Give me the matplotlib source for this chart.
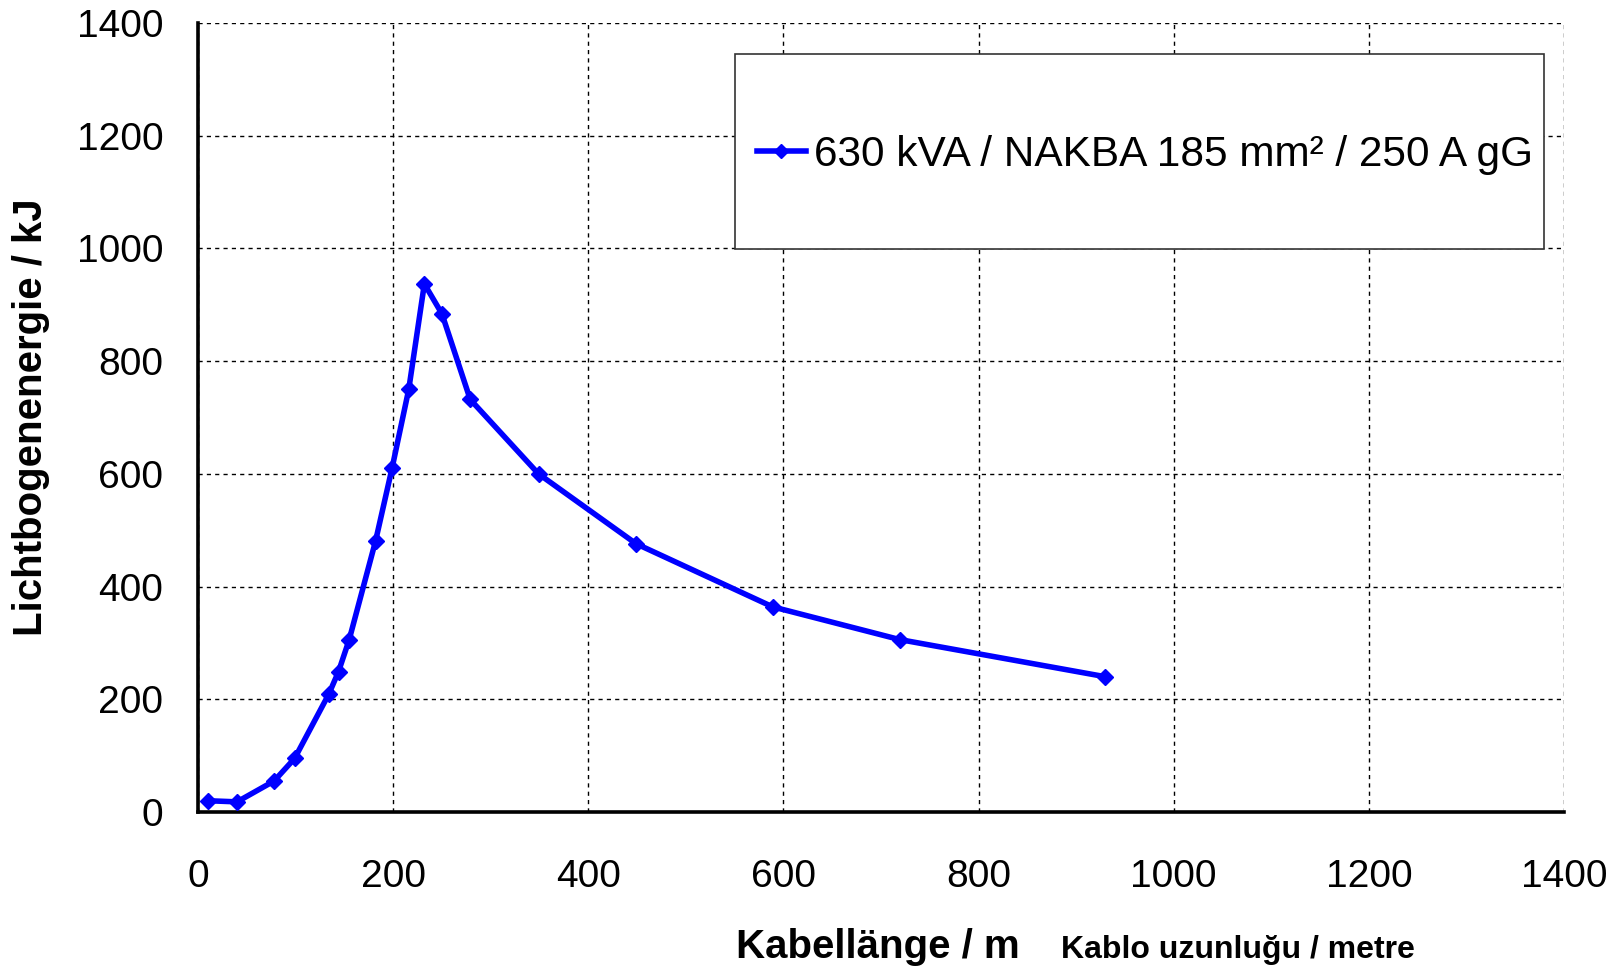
import matplotlib
matplotlib.use("Agg")
import matplotlib.pyplot as plt
from matplotlib.patches import Rectangle

# Lichtbogenenergie über Kabellänge
laenge = [10, 40, 78, 99, 134, 144, 155, 182, 199, 216, 232, 250, 279, 349, 449, 589, 719, 930]
energie = [20, 18, 55, 95, 209, 249, 306, 481, 611, 750, 937, 884, 732, 600, 476, 364, 306, 240]
reihe = "630 kVA / NAKBA 185 mm² / 250 A gG"
ticks = [0, 200, 400, 600, 800, 1000, 1200, 1400]

plt.rcParams['font.family'] = ['Liberation Sans', 'DejaVu Sans']

W, H = 1618, 966
fig = plt.figure(figsize=(W / 100, H / 100), dpi=100)
ax = fig.add_axes([198 / W, 1 - 812 / H, 1366 / W, 789 / H])

ax.plot(laenge, energie, color='#0000FF', lw=4.0, marker='D', ms=8,
        label=reihe, clip_on=False, zorder=3)

ax.set_xlim(0, 1400)
ax.set_ylim(0, 1400)
ax.set_xticks(ticks)
ax.set_yticks(ticks)
ax.tick_params(length=0, labelsize=28)
ax.tick_params(axis='x', pad=34)
ax.tick_params(axis='y', pad=25)
ax.grid(True, color='black', lw=1.0, linestyle=(0, (3, 3)))

for s in ['top', 'right']:
    ax.spines[s].set_visible(False)
for s in ['left', 'bottom']:
    ax.spines[s].set_linewidth(2.6)
    ax.spines[s].set_color('black')

# Legendenrahmen
x0 = (735 - 198) / 1366
x1 = (1544 - 198) / 1366
y1 = (812 - 54) / 789
y0 = (812 - 249) / 789
ax.add_patch(Rectangle((x0, y0), x1 - x0, y1 - y0, transform=ax.transAxes,
                       facecolor='white', edgecolor='#333333', lw=1.2, zorder=4))
leg = ax.legend(loc='center left', bbox_to_anchor=((757 - 198) / 1366, (y0 + y1) / 2 - 0.004),
                frameon=False, fontsize=30.5, handlelength=1.15, handletextpad=0.2,
                borderpad=0, borderaxespad=0)
leg.set_zorder(5)
for h in leg.legend_handles:
    h.set_markersize(7)

fig.text(31 / W, 1 - 417 / H, "Lichtbogenenergie / kJ", rotation=90,
         ha='center', va='center', fontsize=29, fontweight='bold')
fig.text(736 / W, 1 - 958 / H, "Kabellänge / m", ha='left', va='baseline',
         fontsize=29, fontweight='bold')
fig.text(1061 / W, 1 - 958 / H, "Kablo uzunluğu / metre", ha='left', va='baseline',
         fontsize=23, fontweight='bold')

fig.savefig("out.png", dpi=100)
